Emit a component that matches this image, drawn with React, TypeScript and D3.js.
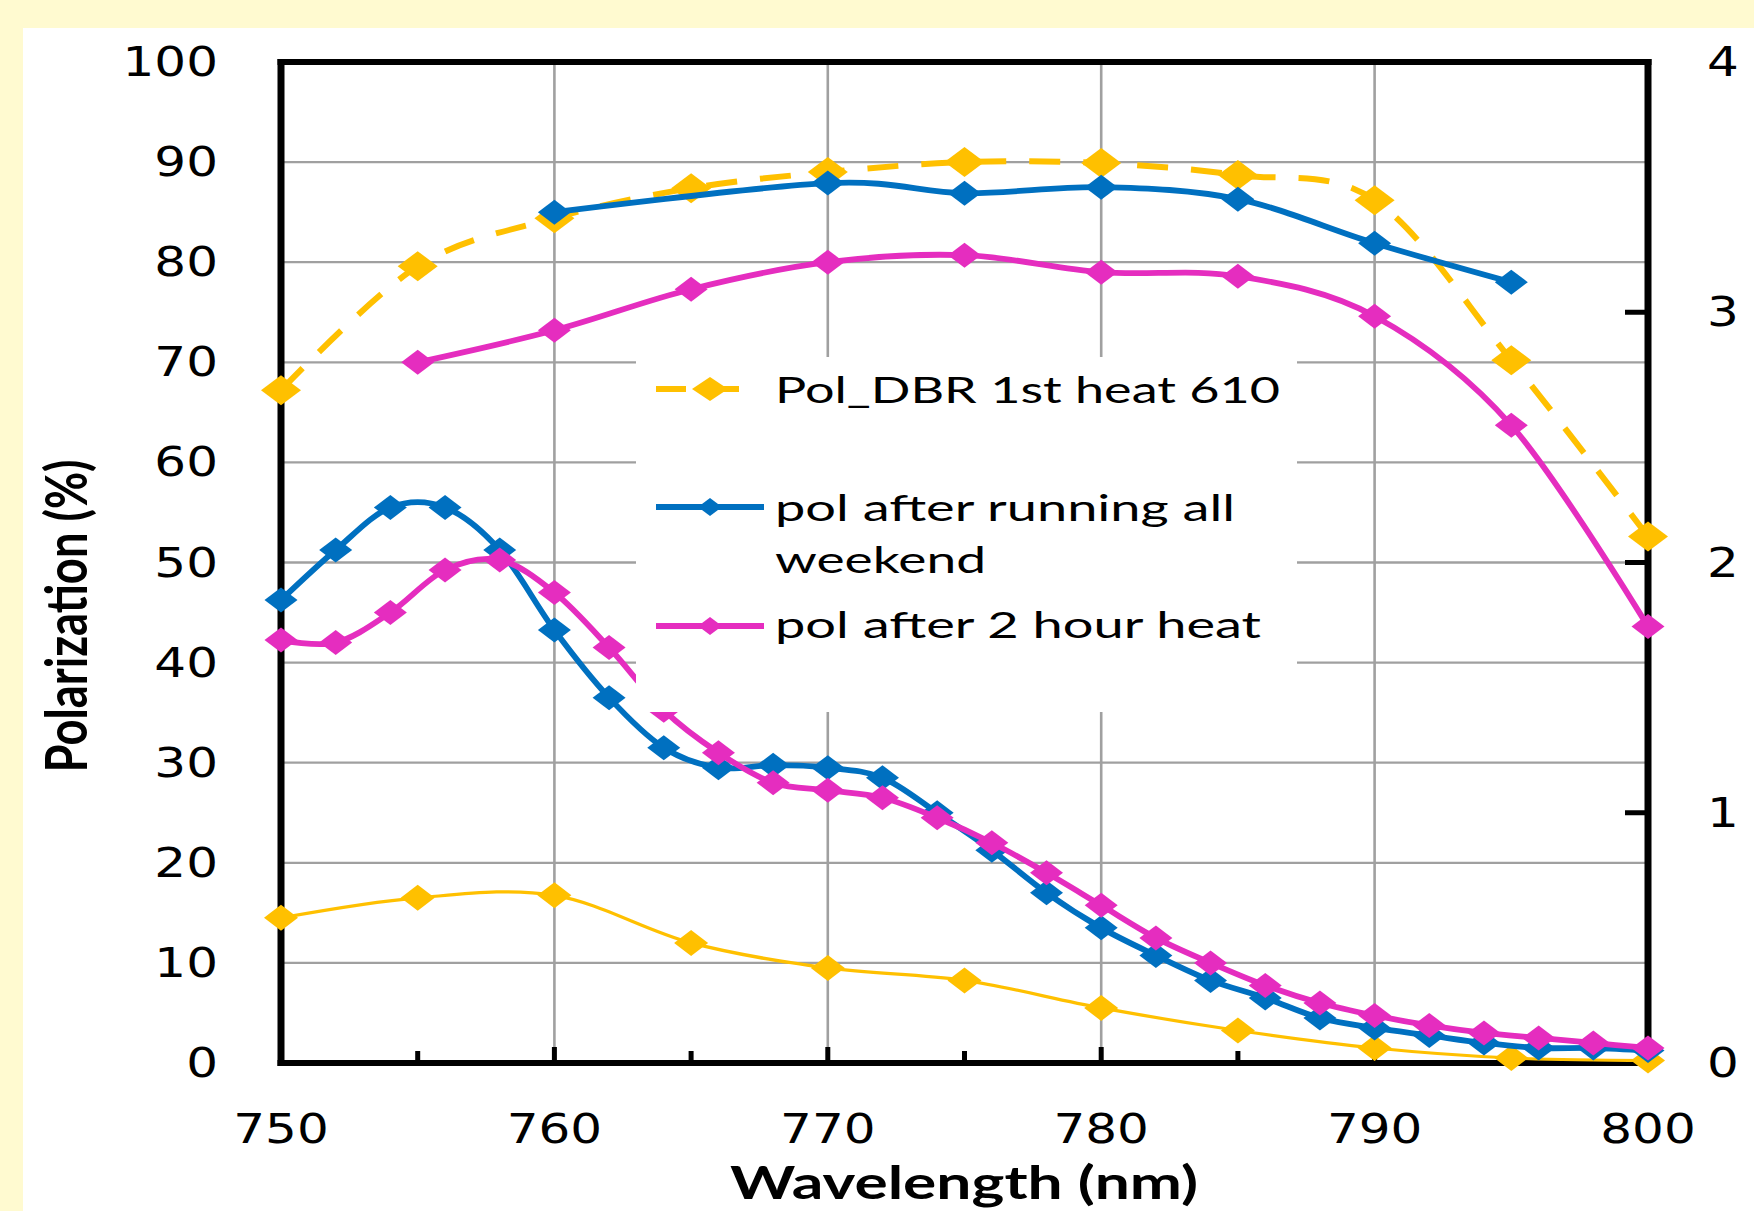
import React from "react";
import * as d3 from "d3";

// ---------- data ----------
const wl5 = [750, 755, 760, 765, 770, 775, 780, 785, 790, 795, 800];
const polDBR1stHeat = [67.2, 79.6, 84.4, 87.4, 89.0, 90.0, 89.9, 88.7, 86.2, 70.2, 52.6];
const intensity1stHeat = [0.58, 0.66, 0.67, 0.48, 0.38, 0.33, 0.22, 0.13, 0.06, 0.02, 0.01];

const wlWeekend = [760, 770, 775, 780, 785, 790, 795];
const polWeekend = [85.0, 87.9, 86.9, 87.5, 86.3, 81.9, 78.0];

const wlTwoHour = [755, 760, 765, 770, 775, 780, 785, 790, 795, 800];
const polTwoHour = [70.0, 73.2, 77.3, 80.0, 80.7, 79.0, 78.6, 74.6, 63.7, 43.6];

const wl2 = [750, 752, 754, 756, 758, 760, 762, 764, 766, 768, 770, 772, 774, 776, 778, 780, 782, 784, 786, 788, 790, 792, 794, 796, 798, 800];
const intensityWeekend = [1.85, 2.05, 2.22, 2.22, 2.05, 1.73, 1.46, 1.26, 1.18, 1.19, 1.18, 1.14, 1.0, 0.85, 0.68, 0.54, 0.43, 0.33, 0.26, 0.18, 0.14, 0.11, 0.08, 0.06, 0.06, 0.05];
const intensityTwoHour = [1.69, 1.68, 1.8, 1.97, 2.01, 1.88, 1.66, 1.41, 1.24, 1.12, 1.09, 1.06, 0.98, 0.88, 0.76, 0.63, 0.5, 0.4, 0.31, 0.24, 0.19, 0.15, 0.12, 0.1, 0.08, 0.06];

const xTicks = [750, 760, 770, 780, 790, 800];
const xMinorTicks = [755, 765, 775, 785, 795];
const yTicks = [0, 10, 20, 30, 40, 50, 60, 70, 80, 90, 100];
const y2Ticks = [0, 1, 2, 3, 4];
const legendLabels = ["Pol_DBR 1st heat 610", "pol after running all", "weekend", "pol after 2 hour heat"];
const xTitle = "Wavelength (nm)";
const yTitle = "Polarization (%)";

// ---------- styles ----------
const CHART_W = 1754;
const CHART_H = 1211;
const YELLOW = "#FFC000";
const BLUE = "#0070C0";
const MAGENTA = "#E52DBF";
const GRID = "#A0A0A0";
const BG = "#FFFAD0";
const NUM_FONT = "'DejaVu Sans', Verdana, sans-serif";
const TXT_FONT = "Lato, Carlito, 'Open Sans', sans-serif";
const SX = 1.22;

const xS = d3.scaleLinear().domain([750, 800]).range([281, 1648]);
const yS = d3.scaleLinear().domain([0, 100]).range([1063, 62]);
const y2S = d3.scaleLinear().domain([0, 4]).range([1063, 62]);

const smoothCurve = d3.curveCatmullRom.alpha(0);

function pathFor(xs: number[], vs: number[], ys: any) {
  const pts: [number, number][] = xs.map((d, i) => [xS(d), ys(vs[i])]);
  return d3.line().curve(smoothCurve)(pts) || "";
}

function diamond(cx: number, cy: number, hw: number, hh: number) {
  return `M${cx},${cy - hh}L${cx + hw},${cy}L${cx},${cy + hh}L${cx - hw},${cy}Z`;
}

const seriesList = [
  { xs: wl5, vs: polDBR1stHeat, scale: yS, color: YELLOW, width: 6, dash: "31,23", mw: 20, mh: 15 },
  { xs: wl5, vs: intensity1stHeat, scale: y2S, color: YELLOW, width: 3.2, dash: undefined, mw: 17, mh: 13 },
  { xs: wlWeekend, vs: polWeekend, scale: yS, color: BLUE, width: 5.8, dash: undefined, mw: 16.5, mh: 12.5 },
  { xs: wl2, vs: intensityWeekend, scale: y2S, color: BLUE, width: 5.8, dash: undefined, mw: 16.5, mh: 12.5 },
  { xs: wlTwoHour, vs: polTwoHour, scale: yS, color: MAGENTA, width: 5.8, dash: undefined, mw: 16.5, mh: 12.5 },
  { xs: wl2, vs: intensityTwoHour, scale: y2S, color: MAGENTA, width: 5.8, dash: undefined, mw: 16.5, mh: 12.5 },
];

const legendYs = [389, 507, 626];
const legendColors = [YELLOW, BLUE, MAGENTA];

export default function App() {
  return (
    <svg width={CHART_W} height={CHART_H} style={{ display: "block", position: "absolute", left: 0, top: 0 }}>
      <rect x={0} y={0} width={CHART_W} height={CHART_H} fill={BG} />
      <rect x={23} y={28} width={CHART_W - 23} height={CHART_H - 28} fill="#FFFFFF" />

      {yTicks.filter((t) => t > 0 && t < 100).map((t) => (
        <line key={"gy" + t} x1={xS(750)} x2={xS(800)} y1={yS(t)} y2={yS(t)} stroke={GRID} strokeWidth={2.3} />
      ))}
      {xTicks.filter((t) => t > 750 && t < 800).map((t) => (
        <line key={"gx" + t} x1={xS(t)} x2={xS(t)} y1={yS(100)} y2={yS(0)} stroke={GRID} strokeWidth={2.6} />
      ))}

      <line x1={xS(750) - 3.5} x2={xS(800) + 3.5} y1={yS(100)} y2={yS(100)} stroke="#000" strokeWidth={6} />
      <line x1={xS(750) - 3.5} x2={xS(800) + 3.5} y1={yS(0)} y2={yS(0)} stroke="#000" strokeWidth={6} />
      <line x1={xS(750)} x2={xS(750)} y1={yS(100) - 3} y2={yS(0) + 3} stroke="#000" strokeWidth={7} />
      <line x1={xS(800)} x2={xS(800)} y1={yS(100) - 3} y2={yS(0) + 3} stroke="#000" strokeWidth={7} />

      {xTicks.filter((t) => t > 750 && t < 800).map((t) => (
        <line key={"tx" + t} x1={xS(t)} x2={xS(t)} y1={yS(0)} y2={yS(0) - 16} stroke="#000" strokeWidth={5} />
      ))}
      {xMinorTicks.map((t) => (
        <line key={"tm" + t} x1={xS(t)} x2={xS(t)} y1={yS(0)} y2={yS(0) - 12} stroke="#000" strokeWidth={5} />
      ))}
      {y2Ticks.filter((t) => t > 0 && t < 4).map((t) => (
        <line key={"t2" + t} x1={xS(800)} x2={xS(800) - 23} y1={y2S(t)} y2={y2S(t)} stroke="#000" strokeWidth={5} />
      ))}

      {seriesList.map((s, i) => (
        <g key={"s" + i}>
          <path d={pathFor(s.xs, s.vs, s.scale)} fill="none" stroke={s.color} strokeWidth={s.width}
            strokeDasharray={s.dash} strokeLinejoin="round" />
          {s.xs.map((d, j) => (
            <path key={j} d={diamond(xS(d), s.scale(s.vs[j]), s.mw, s.mh)} fill={s.color} />
          ))}
        </g>
      ))}

      <rect x={636} y={357} width={661} height={355} fill="#FFFFFF" />
      {legendYs.map((ly, i) => (
        <g key={"lg" + i}>
          <line x1={656} x2={i === 0 ? 745 : 764} y1={ly} y2={ly} stroke={legendColors[i]} strokeWidth={6}
            strokeDasharray={i === 0 ? "30,23" : undefined} />
          <path d={i === 0 ? diamond(710, ly, 18, 12) : diamond(710, ly, 12, 9)} fill={legendColors[i]} />
        </g>
      ))}
      <g fontFamily={TXT_FONT} fontSize={36} fill="#000">
        <text x={775} y={402.5} textLength={505} lengthAdjust="spacingAndGlyphs">{legendLabels[0]}</text>
        <text x={775} y={520.5} textLength={460} lengthAdjust="spacingAndGlyphs">{legendLabels[1]}</text>
        <text x={775} y={572.5} textLength={211} lengthAdjust="spacingAndGlyphs">{legendLabels[2]}</text>
        <text x={775} y={637.5} textLength={486} lengthAdjust="spacingAndGlyphs">{legendLabels[3]}</text>
      </g>

      <g fontFamily={NUM_FONT} fontSize={41} fill="#000">
        {yTicks.map((t) => (
          <text key={"ly" + t} transform={`translate(218,${yS(t) + 14}) scale(${SX},1)`} textAnchor="end">{t}</text>
        ))}
        {xTicks.map((t) => (
          <text key={"lx" + t} transform={`translate(${xS(t)},1143) scale(${SX},1)`} textAnchor="middle">{t}</text>
        ))}
        {y2Ticks.map((t) => (
          <text key={"l2" + t} transform={`translate(1707,${y2S(t) + 14}) scale(${SX},1)`} textAnchor="start">{t}</text>
        ))}
      </g>

      <text x={964} y={1199} fontFamily={TXT_FONT} fontWeight="bold" fontSize={46} textAnchor="middle"
        textLength={468} lengthAdjust="spacingAndGlyphs">{xTitle}</text>
      <text transform={`translate(87,616) scale(${SX},1) rotate(-90)`} fontFamily={TXT_FONT} fontWeight="bold"
        fontSize={47} textAnchor="middle" textLength={313} lengthAdjust="spacingAndGlyphs">{yTitle}</text>
    </svg>
  );
}
